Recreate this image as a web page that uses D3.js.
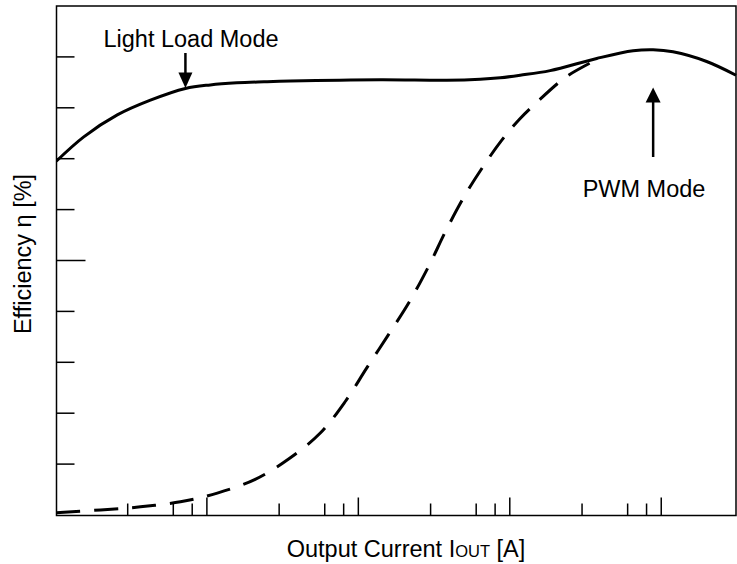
<!DOCTYPE html>
<html>
<head>
<meta charset="utf-8">
<script src="https://cdn.jsdelivr.net/npm/d3@7"></script>
<style>
  html, body { margin: 0; padding: 0; background: #fff; }
  svg { display: block; }
  text { font-family: "Liberation Sans", Arial, Helvetica, sans-serif; fill: #000; }
</style>
</head>
<body>
<svg id="chart" width="737" height="564"></svg>
<script>
// ---- data ----
const solidX = [1.02e-4, 1.55e-4, 2.58e-4, 4.27e-4, 7.27e-4, 1.06e-3, 1.59e-3, 2.4e-3, 3.58e-3, 0.0141, 0.0387, 0.0642, 0.0871, 0.118, 0.186, 0.378, 0.657, 0.891, 1.205, 2.01, 3.14];
const solidY = [69.4, 74.2, 78.5, 81.4, 83.7, 84.4, 84.8, 85.0, 85.15, 85.4, 85.3, 85.5, 85.8, 86.3, 87.2, 89.6, 91.1, 91.3, 90.9, 89.0, 86.3];
const dashedX = [1.02e-4, 2.0e-4, 3.67e-4, 6.74e-4, 1.18e-3, 2.1e-3, 3.49e-3, 5.65e-3, 8.26e-3, 0.0114, 0.0159, 0.0220, 0.0295, 0.0385, 0.0516, 0.0713, 0.0895, 0.118, 0.160, 0.211, 0.252, 0.378];
const dashedY = [0.35, 0.9, 1.5, 2.5, 4.2, 6.9, 10.9, 16.0, 22.2, 28.7, 35.3, 41.9, 48.9, 56.0, 63.0, 69.5, 73.6, 77.8, 81.6, 84.8, 86.5, 89.4];
const xMajorTicks = [0.001, 0.01, 0.1, 1];
const xMinorTicks = [3e-4, 6e-4, 8e-4, 3e-3, 6e-3, 8e-3, 0.03, 0.06, 0.08, 0.3, 0.6, 0.8];
const yTicks = [10, 20, 30, 40, 60, 70, 80, 90];
const yMidTick = [50];
const xLabel = "Output Current I";
const xLabelSub = "OUT";
const xLabelEnd = " [A]";
const yLabel = "Efficiency η [%]";
const annoLight = "Light Load Mode";
const annoPWM = "PWM Mode";

// ---- layout ----
const svg = d3.select("#chart");
const L = 56.5, R = 736, T = 5.5, B = 514.5;
const x = d3.scaleLog().domain([1.024e-4, 3.14]).range([L, R]);
const y = d3.scaleLinear().domain([0, 100]).range([B, T]);

svg.append("rect").attr("width", 737).attr("height", 564).attr("fill", "#fff");

// frame
svg.append("rect")
  .attr("x", L).attr("y", 6).attr("width", R - L).attr("height", 515.5 - 6)
  .attr("fill", "none").attr("stroke", "#000").attr("stroke-width", 1.5);

// x ticks (inward)
const gx = svg.append("g").attr("transform", "translate(0,515.5)");
gx.call(d3.axisBottom(x).tickValues(xMajorTicks).tickSize(-18).tickSizeOuter(0).tickFormat(""));
const gx2 = svg.append("g").attr("transform", "translate(0,515.5)");
gx2.call(d3.axisBottom(x).tickValues(xMinorTicks).tickSize(-12).tickSizeOuter(0).tickFormat(""));
// y ticks (inward)
const gy = svg.append("g").attr("transform", `translate(${L},0)`);
gy.call(d3.axisLeft(y).tickValues(yTicks).tickSize(-18).tickSizeOuter(0).tickFormat(""));
const gy2 = svg.append("g").attr("transform", `translate(${L},0)`);
gy2.call(d3.axisLeft(y).tickValues(yMidTick).tickSize(-29).tickSizeOuter(0).tickFormat(""));
svg.selectAll(".domain").remove();
svg.selectAll(".tick line").attr("stroke", "#000").attr("stroke-width", 1.5);

// curves
const line = d3.line().x(d => x(d[0])).y(d => y(d[1])).curve(d3.curveCatmullRom.alpha(0.5));
const solid = solidX.map((v, i) => [v, solidY[i]]);
const dashed = dashedX.map((v, i) => [v, dashedY[i]]);

svg.append("clipPath").attr("id", "clip").append("rect")
  .attr("x", L).attr("y", 6).attr("width", R - L + 1).attr("height", 515.5 - 6);

svg.append("path").attr("d", line(dashed)).attr("fill", "none")
  .attr("stroke", "#000").attr("stroke-width", 3).attr("stroke-dasharray", "24,14")
  .attr("clip-path", "url(#clip)");
svg.append("path").attr("d", line(solid)).attr("fill", "none")
  .attr("stroke", "#000").attr("stroke-width", 3)
  .attr("clip-path", "url(#clip)");

// annotations
const fs = 23.5;
svg.append("text").attr("x", 191).attr("y", 47).attr("text-anchor", "middle")
  .attr("font-size", fs).text(annoLight);
const ax1 = x(7.27e-4);
svg.append("line").attr("x1", ax1).attr("x2", ax1).attr("y1", 53).attr("y2", 74)
  .attr("stroke", "#000").attr("stroke-width", 2.5);
svg.append("path").attr("d", `M${ax1 - 7},72.5 L${ax1 + 7},72.5 L${ax1},88 Z`).attr("fill", "#000");

svg.append("text").attr("x", 644).attr("y", 197).attr("text-anchor", "middle")
  .attr("font-size", fs).text(annoPWM);
const ax2 = x(0.891);
svg.append("line").attr("x1", ax2).attr("x2", ax2).attr("y1", 157).attr("y2", 101)
  .attr("stroke", "#000").attr("stroke-width", 2.5);
svg.append("path").attr("d", `M${ax2 - 7.5},102.5 L${ax2 + 7.5},102.5 L${ax2},87.5 Z`).attr("fill", "#000");

// axis titles
const xt = svg.append("text").attr("x", 406).attr("y", 557).attr("text-anchor", "middle").attr("font-size", fs);
xt.append("tspan").text(xLabel);
xt.append("tspan").attr("font-size", 16.5).text(xLabelSub);
xt.append("tspan").text(xLabelEnd);

svg.append("text").attr("transform", "translate(30.5,254) rotate(-90)")
  .attr("text-anchor", "middle").attr("font-size", fs).text(yLabel);
</script>
</body>
</html>
